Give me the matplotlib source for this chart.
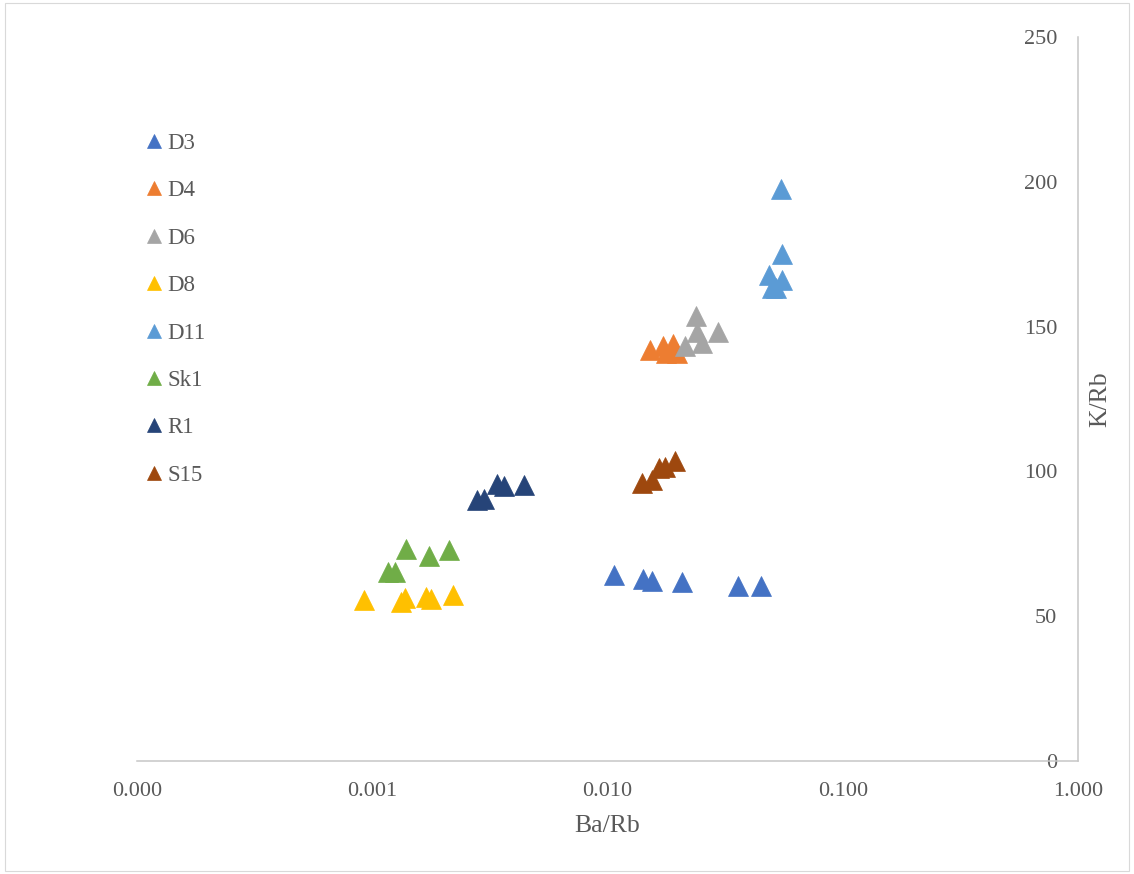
import matplotlib
matplotlib.use("Agg")
import matplotlib.pyplot as plt
from matplotlib.ticker import FixedLocator, FuncFormatter, NullLocator
from matplotlib.patches import Rectangle

plt.rcParams['font.family'] = ['Liberation Serif', 'DejaVu Serif']

# Ba/Rb and K/Rb ratios per sample group
d3_ba_rb = [0.0107, 0.0141, 0.0154, 0.0207, 0.0360, 0.0449]
d3_k_rb = [64.1, 62.8, 62.2, 61.9, 60.4, 60.4]

d4_ba_rb = [0.0152, 0.0172, 0.0177, 0.0190, 0.0197]
d4_k_rb = [141.9, 143.3, 141.0, 143.9, 141.0]

d6_ba_rb = [0.0214, 0.0237, 0.0239, 0.0251, 0.0294]
d6_k_rb = [143.4, 153.7, 148.2, 144.2, 148.2]

d8_ba_rb = [0.00092, 0.00138, 0.00133, 0.00170, 0.00178, 0.00221]
d8_k_rb = [55.7, 56.2, 55.0, 56.6, 56.0, 57.2]

d11_ba_rb = [0.0546, 0.0550, 0.0484, 0.0499, 0.0552, 0.0520]
d11_k_rb = [197.5, 175.2, 167.8, 163.2, 166.0, 163.4]

sk1_ba_rb = [0.00139, 0.00174, 0.00212, 0.00117, 0.00125]
sk1_k_rb = [73.3, 70.7, 73.0, 65.4, 65.4]

r1_ba_rb = [0.00279, 0.00299, 0.00339, 0.00363, 0.00442]
r1_k_rb = [90.1, 90.5, 95.6, 95.0, 95.3]

s15_ba_rb = [0.01397, 0.01541, 0.01661, 0.01755, 0.01936]
s15_k_rb = [96.0, 97.0, 101.1, 101.5, 103.6]

series = [
    ("D3", d3_ba_rb, d3_k_rb, "#4472C4"),
    ("D4", d4_ba_rb, d4_k_rb, "#ED7D31"),
    ("D6", d6_ba_rb, d6_k_rb, "#A5A5A5"),
    ("D8", d8_ba_rb, d8_k_rb, "#FFC000"),
    ("D11", d11_ba_rb, d11_k_rb, "#5B9BD5"),
    ("Sk1", sk1_ba_rb, sk1_k_rb, "#70AD47"),
    ("R1", r1_ba_rb, r1_k_rb, "#264478"),
    ("S15", s15_ba_rb, s15_k_rb, "#9E480E"),
]

x_ticks = [0.0001, 0.001, 0.01, 0.1, 1.0]
y_ticks = [0, 50, 100, 150, 200, 250]

text_color = "#595959"
axis_color = "#C6C6C6"

fig = plt.figure(figsize=(11.34, 8.74), dpi=100)
ax = fig.add_axes([0.1208, 0.1293, 0.8298, 0.8284])

for name, xs, ys, color in series:
    ax.plot(xs, ys, linestyle="none", marker="^", markersize=14,
            markerfacecolor=color, markeredgecolor=color, markeredgewidth=0.5,
            label=name)

ax.set_xscale("log")
ax.set_xlim(0.0001, 1.0)
ax.set_ylim(0, 250)
ax.xaxis.set_major_locator(FixedLocator(x_ticks))
ax.xaxis.set_minor_locator(NullLocator())
ax.xaxis.set_major_formatter(FuncFormatter(lambda v, p: f"{v:.3f}"))
ax.yaxis.set_major_locator(FixedLocator(y_ticks))

# value axis sits at the right edge, labels on its inner side
ax.spines["left"].set_position(("axes", 1.0))
ax.spines["right"].set_visible(False)
ax.spines["top"].set_visible(False)
for s in ("left", "bottom"):
    ax.spines[s].set_color(axis_color)
    ax.spines[s].set_linewidth(1.1)

ax.tick_params(axis="both", length=0, labelsize=16, labelcolor=text_color)
ax.tick_params(axis="x", pad=15)
ax.tick_params(axis="y", pad=15)

ax.set_xlabel("Ba/Rb", fontsize=18.5, color=text_color, labelpad=10)
ax.yaxis.set_label_position("right")
ax.set_ylabel("K/Rb", fontsize=18.5, color=text_color, labelpad=8)

leg = ax.legend(loc="upper left", bbox_to_anchor=(0.119, 0.861),
                bbox_transform=fig.transFigure, frameon=False,
                fontsize=16.5, labelcolor=text_color, markerscale=0.72,
                handlelength=0.7, handletextpad=0.2, labelspacing=1.15,
                borderpad=0.0)

fig.patches.append(Rectangle((0.004, 0.004), 0.992, 0.992,
                             transform=fig.transFigure, fill=False,
                             edgecolor="#D9D9D9", linewidth=0.8))

fig.savefig("out.png", dpi=100, facecolor="white")
